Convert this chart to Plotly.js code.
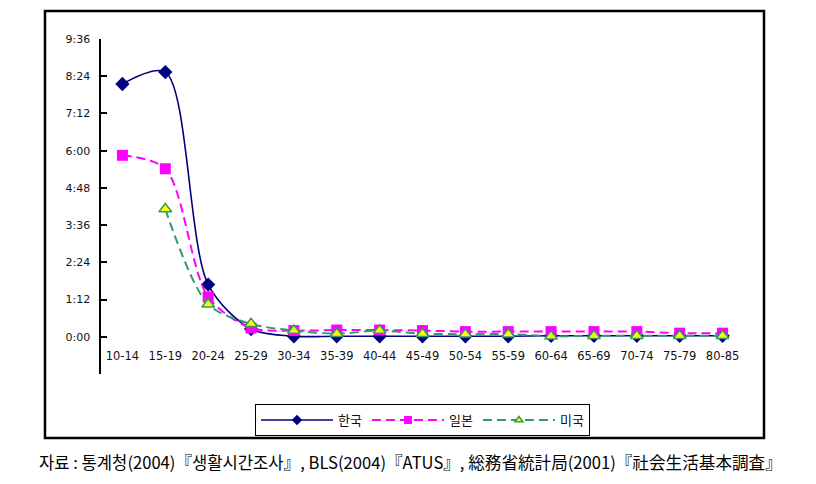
<!DOCTYPE html>
<html>
<head>
<meta charset="utf-8">
<script src="https://cdn.plot.ly/plotly-3.0.1.min.js"></script>
<style>html,body{margin:0;padding:0;background:#fff;}#chart{width:816px;height:484px;}</style>
</head>
<body>
<div id="chart"></div>
<script>
// Age groups (x categories)
const ageGroups = ['10-14','15-19','20-24','25-29','30-34','35-39','40-44','45-49','50-54','55-59','60-64','65-69','70-74','75-79','80-85'];
// Values in minutes per day
const korea = [489, 512, 101, 15, 1, 1, 1, 1, 1, 1, 2, 2, 2, 2, 2];
const japan = [351, 325, 77, 17, 12, 13, 13, 12, 10, 10, 10, 10, 10, 7, 7];
const usa   = [null, 247, 63, 25, 12, 6, 12, 6, 5, 5, 1, 2, 2, 2, 2];
const seriesNames = ['한국', '일본', '미국'];
// Y tick labels (h:mm)
const yTickVals = [-72, 0, 72, 144, 216, 288, 360, 432, 504, 576];
const yTickText = ['', '0:00', '1:12', '2:24', '3:36', '4:48', '6:00', '7:12', '8:24', '9:36'];
const sourceText = '자료 : 통계청(2004)『생활시간조사』, BLS(2004)『ATUS』, 総務省統計局(2001)『社会生活基本調査』';

const styles = [
  {line: {color: '#000080', width: 1.6}, marker: {symbol: 'diamond', color: '#000080'}},
  {line: {color: '#FF00FF', width: 2, dash: '9px,5px'}, marker: {symbol: 'square', color: '#FF00FF'}},
  {line: {color: '#339966', width: 2, dash: '9px,5px'}, marker: {symbol: 'triangle-up', color: '#FFFF00', line: {color: '#339966', width: 1.5}}}
];
const seriesData = [korea, japan, usa];

const traces = [];
seriesData.forEach((vals, i) => {
  traces.push({x: ageGroups, y: vals, name: seriesNames[i], type: 'scatter', mode: 'lines+markers',
    showlegend: false,
    line: Object.assign({}, styles[i].line, {shape: 'spline', smoothing: 0.85}),
    marker: Object.assign({}, styles[i].marker, {size: 11})});
});
// legend entries (smaller symbols, as in the reference legend)
seriesData.forEach((vals, i) => {
  traces.push({x: [null], y: [null], name: seriesNames[i], type: 'scatter', mode: 'lines+markers',
    showlegend: true,
    line: styles[i].line,
    marker: Object.assign({}, styles[i].marker, {size: i === 2 ? 7 : 8})});
});

const layout = {
  width: 816, height: 484,
  margin: {l: 101, r: 72, t: 39, b: 110},
  paper_bgcolor: '#fff', plot_bgcolor: '#fff',
  font: {family: 'DejaVu Sans, sans-serif', size: 11, color: '#111'},
  showlegend: true,
  legend: {orientation: 'h', x: 0.2395, y: -0.0896, xanchor: 'left', yanchor: 'top',
    bordercolor: '#000', borderwidth: 1, bgcolor: '#fff', itemwidth: 72,
    font: {family: 'Noto Sans CJK KR, sans-serif', size: 13, color: '#111'}},
  xaxis: {type: 'category', range: [-0.5, 14.5], anchor: 'free', position: 0.08,
    showline: false, ticks: '', showgrid: false, zeroline: false, automargin: false,
    tickfont: {family: 'DejaVu Sans, sans-serif', size: 11.5, color: '#111'}},
  yaxis: {range: [-72, 576], tickvals: yTickVals, ticktext: yTickText,
    showline: true, linecolor: '#000', linewidth: 2.5, ticks: 'inside', ticklen: 6,
    tickwidth: 2, tickcolor: '#000', showgrid: false, zeroline: false, automargin: false,
    ticklabelstandoff: 6,
    tickfont: {family: 'DejaVu Sans, sans-serif', size: 11, color: '#111'}},
  shapes: [{type: 'rect', xref: 'paper', yref: 'paper',
    x0: -0.0871, x1: 1.0311, y0: -0.191, y1: 1.0836,
    line: {color: '#000', width: 2.5}, fillcolor: 'rgba(0,0,0,0)'}],
  annotations: [{text: sourceText, xref: 'paper', yref: 'paper', x: 0.481, y: -0.2627,
    xanchor: 'center', yanchor: 'middle', showarrow: false,
    font: {family: 'Noto Sans CJK KR, sans-serif', size: 16.6, color: '#000'}}]
};

Plotly.newPlot('chart', traces, layout, {staticPlot: true, displayModeBar: false});
</script>
</body>
</html>
